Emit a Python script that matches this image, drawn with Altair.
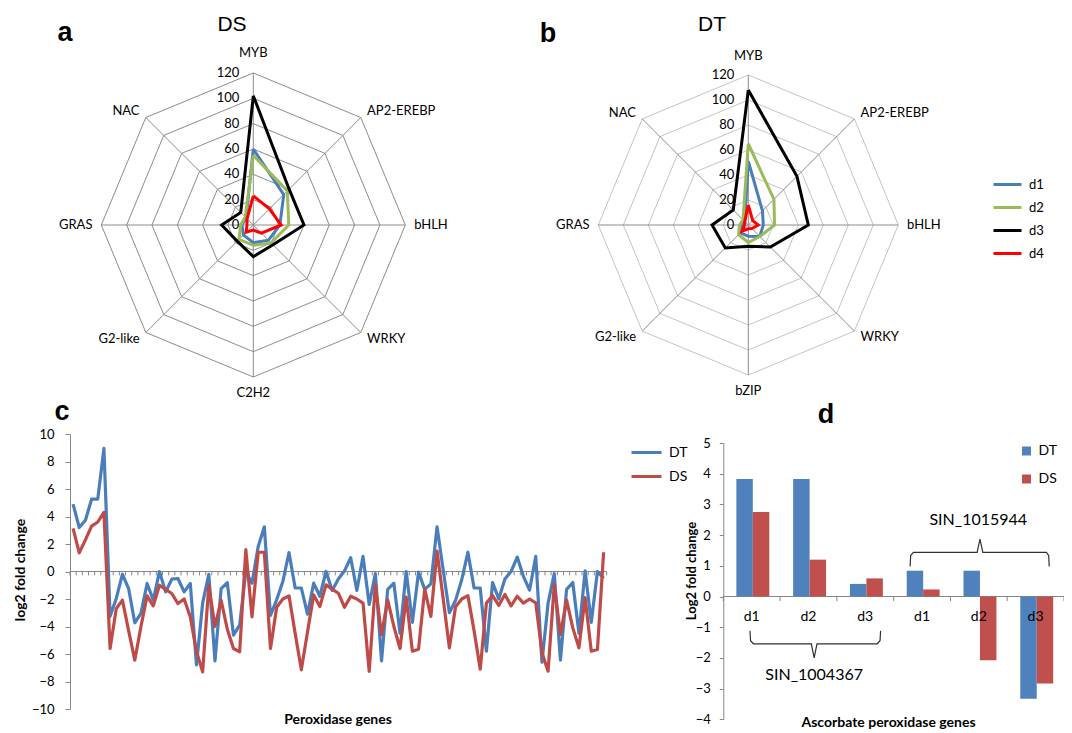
import altair as alt
import pandas as pd

FONT = "Lato"
FONT_T = "Liberation Sans"
AXC = "#868686"

# ---------------- panels a / b : radar data ----------------
spokes_ds = ["MYB", "AP2-EREBP", "bHLH", "WRKY", "C2H2", "G2-like", "GRAS", "NAC"]
spokes_dt = ["MYB", "AP2-EREBP", "bHLH", "WRKY", "bZIP", "G2-like", "GRAS", "NAC"]
radar_series = ["d1", "d2", "d3", "d4"]
radar_colors = ["#4A7EBB", "#9BBB59", "#000000", "#FF0000"]
ds_d1 = [60, 34, 21, 17, 14, 11, 9, 8]
ds_d2 = [55, 38, 28, 20, 16, 16, 10, 9]
ds_d3 = [102, 40, 40, 22, 25, 18, 25, 14]
ds_d4 = [23, 18, 22, 9, 4, 8, 5, 7]
dt_d1 = [51, 16, 12, 13, 9, 9, 5, 4]
dt_d2 = [65, 29, 21, 13, 14, 11, 7, 6]
dt_d3 = [108, 55, 48, 25, 17, 26, 29, 17]
dt_d4 = [16, 5, 8, 4, 3, 7, 3, 4]
radar_rings = [20, 40, 60, 80, 100, 120]
radar_ticks = [0, 20, 40, 60, 80, 100, 120]

# ---------------- panel c : peroxidase genes ----------------
perox_dt = [4.9, 3.2, 3.73, 5.26, 5.26, 8.95, -3.25, -1.96, -0.2, -1.24,
            -3.73, -3.05, -0.87, -2.08, 0.0, -1.48, -0.56, -0.51, -1.48, -0.87,
            -6.8, -2.3, -0.2, -6.5, -1.24, -0.82, -4.63, -3.9, 0.0, -0.85,
            1.8, 3.25, -3.2, -2.06, -0.73, 1.38, -1.2, -1.2, -3.1, -0.85,
            -1.8, 0.0, -1.38, -0.55, 0.05, 1.0, -1.38, 1.1, -2.4, -0.15,
            -6.5, -1.3, -0.85, -4.5, 0.0, -3.7, -0.05, -1.3, -0.9, 3.25,
            0.1, -3.0, -2.1, -0.6, 1.4, -1.2, -1.2, -5.8, -0.8, -2.0,
            -0.55, 0.0, 1.05, -0.35, -1.35, 1.1, -6.6, -2.3, -0.15, -6.45,
            -1.3, -0.8, -4.5, 0.05, -3.7, 0.0, -0.5]
perox_ds = [3.13, 1.36, 2.3, 3.3, 3.6, 4.3, -5.6, -2.7, -2.08, -4.3,
            -6.45, -4.0, -1.77, -2.5, -1.0, -1.3, -1.6, -2.33, -2.0, -3.3,
            -5.8, -7.3, -1.0, -4.0, -2.1, -4.2, -5.6, -5.84, 1.6, -3.3,
            1.4, 1.4, -5.6, -2.6, -2.0, -1.77, -4.5, -7.15, -4.4, -1.7,
            -2.55, -0.97, -1.28, -1.58, -2.6, -1.8, -2.0, -2.3, -7.27, -0.97,
            -4.6, -2.06, -4.0, -5.6, -1.87, -5.8, -5.65, -1.28, -3.27, 1.48,
            -2.0, -5.55, -2.57, -2.0, -1.75, -4.3, -7.1, -2.3, -1.75, -2.47,
            -1.67, -2.5, -1.8, -2.3, -2.0, -2.28, -5.9, -7.25, -0.95, -4.58,
            -2.08, -4.1, -5.55, -1.9, -5.8, -5.67, 1.4]
perox_series = ["DT", "DS"]
perox_colors = ["#4A7EBB", "#BE4B48"]
perox_yticks = [-10, -8, -6, -4, -2, 0, 2, 4, 6, 8, 10]

# ---------------- panel d : ascorbate peroxidase genes ----------------
apx_labels = ["d1", "d2", "d3", "d1", "d2", "d3"]
apx_dt = [3.83, 3.83, 0.41, 0.84, 0.84, -3.33]
apx_ds = [2.75, 1.20, 0.59, 0.23, -2.08, -2.83]
apx_colors = ["#4F81BD", "#C0504D"]
apx_yticks = [-4, -3, -2, -1, 0, 1, 2, 3, 4, 5]
gene_names = ["SIN_1004367", "SIN_1015944"]
bracket1_x = [0.47, 0.48, 0.53, 1.55, 1.60, 1.65, 2.71, 2.76, 2.77]
bracket1_y = [-1.12, -1.44, -1.54, -1.54, -2.0, -1.54, -1.54, -1.44, -1.12]
bracket2_x = [3.29, 3.30, 3.35, 4.47, 4.52, 4.57, 5.69, 5.73, 5.74]
bracket2_y = [0.98, 1.34, 1.44, 1.44, 1.87, 1.44, 1.44, 1.34, 0.98]


def txt(t, x, y, size, weight="normal", font=FONT, angle=0, align="center", baseline="alphabetic"):
    return alt.Chart(pd.DataFrame({"t": [t]})).mark_text(
        font=font, fontSize=size, fontWeight=weight, angle=angle, align=align,
        baseline=baseline, color="black"
    ).encode(x=alt.value(x), y=alt.value(y), text="t:N")


def radar(spokes, vals_list, cx, cy, rpx, ring_col, spoke_col, legend):
    xs = alt.Scale(domain=[-120, 120], range=[cx - rpx, cx + rpx], nice=False, zero=False)
    ys = alt.Scale(domain=[-120, 120], range=[cy + rpx, cy - rpx], nice=False, zero=False)
    ang = "datum.k * PI / 4"
    calc = dict(px=f"datum.r * sin({ang})", py=f"datum.r * cos({ang})")
    enc = dict(x=alt.X("px:Q", scale=xs, axis=None), y=alt.Y("py:Q", scale=ys, axis=None))

    rings = pd.DataFrame([{"r": r, "k": k} for r in radar_rings for k in range(9)])
    ring_l = alt.Chart(rings).transform_calculate(**calc).mark_line(
        color=ring_col, strokeWidth=1).encode(detail="r:Q", order="k:Q", **enc)

    sp = pd.DataFrame([{"r": r, "k": k} for k in range(8) for r in (0, 120)])
    spoke_l = alt.Chart(sp).transform_calculate(**calc).mark_line(
        color=spoke_col, strokeWidth=1).encode(detail="k:Q", order="r:Q", **enc)

    tk = pd.DataFrame({"r": radar_ticks, "k": [0] * len(radar_ticks),
                       "lab": [str(t) for t in radar_ticks]})
    tick_l = alt.Chart(tk).transform_calculate(**calc).mark_text(
        align="right", baseline="middle", dx=-14, font=FONT, fontSize=13, color="black"
    ).encode(text="lab:N", **enc)

    rows = []
    for s, vals in zip(radar_series, vals_list):
        for k in range(9):
            rows.append({"series": s, "k": k, "r": vals[k % 8]})
    ser = pd.DataFrame(rows)
    ser_l = alt.Chart(ser).transform_calculate(**calc).mark_line(
        strokeWidth=3, strokeJoin="miter").encode(
        color=alt.Color("series:N", scale=alt.Scale(domain=radar_series, range=radar_colors),
                        legend=legend),
        detail="series:N", order="k:Q", **enc)

    cat = pd.DataFrame({"name": spokes, "k": list(range(8))})
    layers = [ring_l, spoke_l, tick_l]
    groups = [([0], 130, "center", "bottom"), ([4], 128, "center", "top"),
              ([1, 2, 3], 127, "left", "middle"), ([5, 6, 7], 127, "right", "middle")]
    for ks, rr, al, bl in groups:
        layers.append(
            alt.Chart(cat).transform_filter(alt.FieldOneOfPredicate(field="k", oneOf=ks))
            .transform_calculate(r=str(rr)).transform_calculate(**calc)
            .mark_text(align=al, baseline=bl, font=FONT, fontSize=13, color="black")
            .encode(text="name:N", **enc))
    layers.append(ser_l)
    return alt.layer(*layers)


radar_legend = alt.Legend(orient="none", legendX=984, legendY=161, title=None,
                          symbolType="stroke", symbolSize=784, symbolStrokeWidth=3,
                          labelFont=FONT, labelFontSize=13, labelColor="black",
                          labelOffset=6, rowPadding=0, padding=0)

radar_a = radar(spokes_ds, [ds_d1, ds_d2, ds_d3, ds_d4], 245.3, 217, 152,
                "#8c8c8c", "#8c8c8c", radar_legend)
radar_b = radar(spokes_dt, [dt_d1, dt_d2, dt_d3, dt_d4], 740.3, 217, 150,
                "#c4c4c4", "#8c8c8c", None)

# ---------------- panel c ----------------
xs_c = alt.Scale(domain=[-0.5, len(perox_dt) - 0.5], range=[62, 598.7], nice=False, zero=False)
ys_c = alt.Scale(domain=[-10, 10], range=[701, 426], nice=False, zero=False)
rows = []
for s, vals in zip(perox_series, [perox_dt, perox_ds]):
    for i, v in enumerate(vals):
        rows.append({"series": s, "i": i, "v": v})
dfc = pd.DataFrame(rows)

zero_c = alt.Chart(pd.DataFrame({"a": [-0.5], "b": [len(perox_dt) - 0.5], "y": [0]})).mark_rule(
    color=AXC, strokeWidth=1).encode(
    x=alt.X("a:Q", scale=xs_c, axis=None), x2="b:Q",
    y=alt.Y("y:Q", scale=ys_c, axis=alt.Axis(
        orient="left", offset=-62, values=perox_yticks, title=None, grid=False, format="d",
        domainColor=AXC, tickColor=AXC, tickSize=5, labelFont=FONT, labelFontSize=13,
        labelColor="black", labelPadding=11)))
ticks_c = alt.Chart(pd.DataFrame({"b": [i - 0.5 for i in range(len(perox_dt) + 1)]})).transform_calculate(
    y0="0", y1="-0.28").mark_rule(color=AXC, strokeWidth=1).encode(
    x=alt.X("b:Q", scale=xs_c, axis=None), y=alt.Y("y0:Q", scale=ys_c), y2="y1:Q")
lines_c = alt.Chart(dfc).mark_line(strokeWidth=3.2, strokeJoin="round").encode(
    x=alt.X("i:Q", scale=xs_c, axis=None),
    y=alt.Y("v:Q", scale=ys_c),
    color=alt.Color("series:N", scale=alt.Scale(domain=perox_series, range=perox_colors),
                    legend=alt.Legend(orient="none", legendX=622, legendY=428, title=None,
                                      symbolType="stroke", symbolSize=900, symbolStrokeWidth=3,
                                      labelFont=FONT, labelFontSize=14, labelColor="black",
                                      labelOffset=6, rowPadding=0, padding=0)),
    detail="series:N", order="i:Q")
panel_c = alt.layer(zero_c, ticks_c, lines_c)

# ---------------- panel d ----------------
xs_d = alt.Scale(domain=[0, 6], range=[715.3, 1056], nice=False, zero=False)
ys_d = alt.Scale(domain=[-4, 5], range=[711.3, 435], nice=False, zero=False)
rows = []
for s, (name, vals) in enumerate(zip(perox_series, [apx_dt, apx_ds])):
    for j, v in enumerate(vals):
        rows.append({"series": name, "s": s, "j": j, "v": v})
dfd = pd.DataFrame(rows)
bars_d = alt.Chart(dfd).transform_calculate(
    x0="datum.j + 0.23 + datum.s * 0.29").transform_calculate(
    x1="datum.x0 + 0.29", z="0").mark_bar().encode(
    x=alt.X("x0:Q", scale=xs_d, axis=None), x2="x1:Q",
    y=alt.Y("v:Q", scale=ys_d, axis=alt.Axis(
        orient="left", offset=-715.3, values=apx_yticks, title=None, grid=False, format="d",
        domainColor=AXC, tickColor=AXC, tickSize=4, labelFont=FONT, labelFontSize=13,
        labelColor="black", labelPadding=9)),
    y2="z:Q",
    color=alt.Color("series:N", scale=alt.Scale(domain=perox_series, range=apx_colors),
                    legend=alt.Legend(orient="none", legendX=1011.5, legendY=436, title=None,
                                      symbolType="square", symbolSize=81, symbolStrokeWidth=0,
                                      labelFont=FONT, labelFontSize=14, labelColor="black",
                                      labelOffset=5, rowPadding=14, padding=0)))
zero_d = alt.Chart(pd.DataFrame({"a": [0], "b": [6], "y": [0]})).mark_rule(
    color=AXC, strokeWidth=1).encode(
    x=alt.X("a:Q", scale=xs_d, axis=None), x2="b:Q", y=alt.Y("y:Q", scale=ys_d))
ticks_d = alt.Chart(pd.DataFrame({"b": list(range(7))})).transform_calculate(
    y0="0", y1="-0.15").mark_rule(color=AXC, strokeWidth=1).encode(
    x=alt.X("b:Q", scale=xs_d, axis=None), y=alt.Y("y0:Q", scale=ys_d), y2="y1:Q")
catlab_d = alt.Chart(pd.DataFrame({"lab": apx_labels, "j": list(range(6))})).transform_calculate(
    xc="datum.j + 0.5", yc="-0.67").mark_text(
    font=FONT, fontSize=14, color="black", baseline="middle").encode(
    x=alt.X("xc:Q", scale=xs_d, axis=None), y=alt.Y("yc:Q", scale=ys_d), text="lab:N")
br_rows = [{"b": 0, "o": n, "x": x, "y": y} for n, (x, y) in enumerate(zip(bracket1_x, bracket1_y))]
br_rows += [{"b": 1, "o": n, "x": x, "y": y} for n, (x, y) in enumerate(zip(bracket2_x, bracket2_y))]
brackets = alt.Chart(pd.DataFrame(br_rows)).mark_line(color="#303030", strokeWidth=1.2).encode(
    x=alt.X("x:Q", scale=xs_d, axis=None), y=alt.Y("y:Q", scale=ys_d), detail="b:N", order="o:Q")
genelab = alt.Chart(pd.DataFrame({"g": gene_names, "x": [1.6, 4.49], "y": [-2.57, 2.5]})).mark_text(
    font=FONT, fontSize=16, color="black", baseline="middle").encode(
    x=alt.X("x:Q", scale=xs_d, axis=None), y=alt.Y("y:Q", scale=ys_d), text="g:N")
panel_d = alt.layer(zero_d, ticks_d, bars_d, catlab_d, brackets, genelab)

# ---------------- annotations ----------------
notes = [
    txt("a", 57, 33, 27, "bold", FONT_T),
    txt("b", 540, 34, 27, "bold", FONT_T),
    txt("c", 54, 412, 27, "bold", FONT_T),
    txt("d", 818, 415, 27, "bold", FONT_T),
    txt("DS", 224, 23, 21, "normal", FONT_T),
    txt("DT", 704, 23, 21, "normal", FONT_T),
    txt("log2 fold change", 13, 562, 14, "bold", angle=270, baseline="middle"),
    txt("Peroxidase genes", 330, 716, 14, "bold"),
    txt("Log2 fold change", 683.7, 563, 13, "bold", angle=270, baseline="middle"),
    txt("Ascorbate peroxidase genes", 880.5, 719, 14, "bold"),
]

chart = alt.layer(radar_a, radar_b, panel_c, panel_d, *notes).resolve_scale(
    x="independent", y="independent", color="independent"
).properties(
    width=1056, height=725, padding=0, autosize=alt.AutoSizeParams(type="none")
).configure_view(stroke=None)

chart.save("out.html", embed_options={"renderer": "svg", "actions": False})
